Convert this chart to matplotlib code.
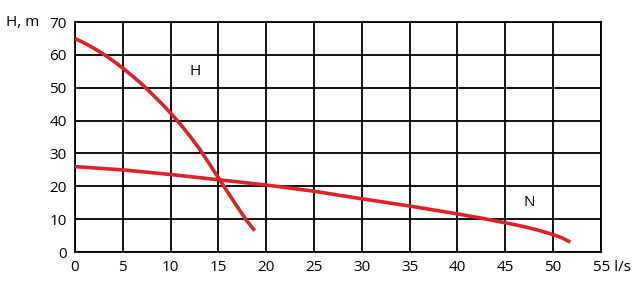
import matplotlib
matplotlib.use("Agg")
import matplotlib.pyplot as plt
from matplotlib.transforms import ScaledTranslation

plt.rcParams['font.family'] = ['Open Sans', 'DejaVu Sans']

# H curve (head, m) vs flow (l/s)
h_flow = [0, 1, 2, 3, 4, 5, 6, 7, 8, 9, 10, 11, 12, 13, 14, 15, 16, 17, 18, 18.8]
h_head = [65, 63.6, 62.0, 60.2, 58.2, 56.0, 53.6, 51.1, 48.3, 45.4, 42.3, 39.0,
          35.4, 31.5, 27.1, 22.6, 18.1, 13.7, 9.4, 6.5]

# N curve
n_flow = [0, 5, 10, 15, 20, 25, 30, 35, 40, 42.5, 45, 47, 48.5, 50, 51, 51.8]
n_head = [26, 25, 23.6, 22, 20.4, 18.5, 16.2, 14, 11.6, 10.3, 8.9, 7.7, 6.6, 5.3, 4.2, 3.0]

x_ticks = [0, 5, 10, 15, 20, 25, 30, 35, 40, 45, 50, 55]
y_ticks = [0, 10, 20, 30, 40, 50, 60, 70]

red = '#d9232f'

fig = plt.figure(figsize=(6.4, 2.9), dpi=100)
ax = fig.add_axes([0.117, 0.131, 0.822, 0.793])
ax.set_xlim(0, 55)
ax.set_ylim(0, 70)
ax.set_xticks(x_ticks)
ax.set_yticks(y_ticks)
ax.set_xticklabels([str(v) for v in x_ticks[:-1]] + ['55 l/s'])
ax.grid(True, color='black', linewidth=1.3)
for s in ax.spines.values():
    s.set_linewidth(1.3)
    s.set_color('black')
ax.tick_params(length=0, labelsize=11, pad=6)
ax.set_axisbelow(True)

ax.plot(h_flow, h_head, color=red, linewidth=2.6, solid_capstyle='butt', zorder=3)
ax.plot(n_flow, n_head, color=red, linewidth=2.6, solid_capstyle='butt', zorder=3)

ax.text(12.6, 55, 'H', fontsize=11, ha='center', va='center')
ax.text(47.5, 15.2, 'N', fontsize=11, ha='center', va='center')

fig.text(0.010, 0.924, 'H, m', fontsize=11, ha='left', va='center')

# keep "55" centred on its tick with the unit after it
lab = ax.get_xticklabels()[-1]
lab.set_horizontalalignment('left')
lab.set_transform(lab.get_transform() + ScaledTranslation(-0.08, 0, fig.dpi_scale_trans))

fig.savefig('out.png', dpi=100, facecolor='white')
